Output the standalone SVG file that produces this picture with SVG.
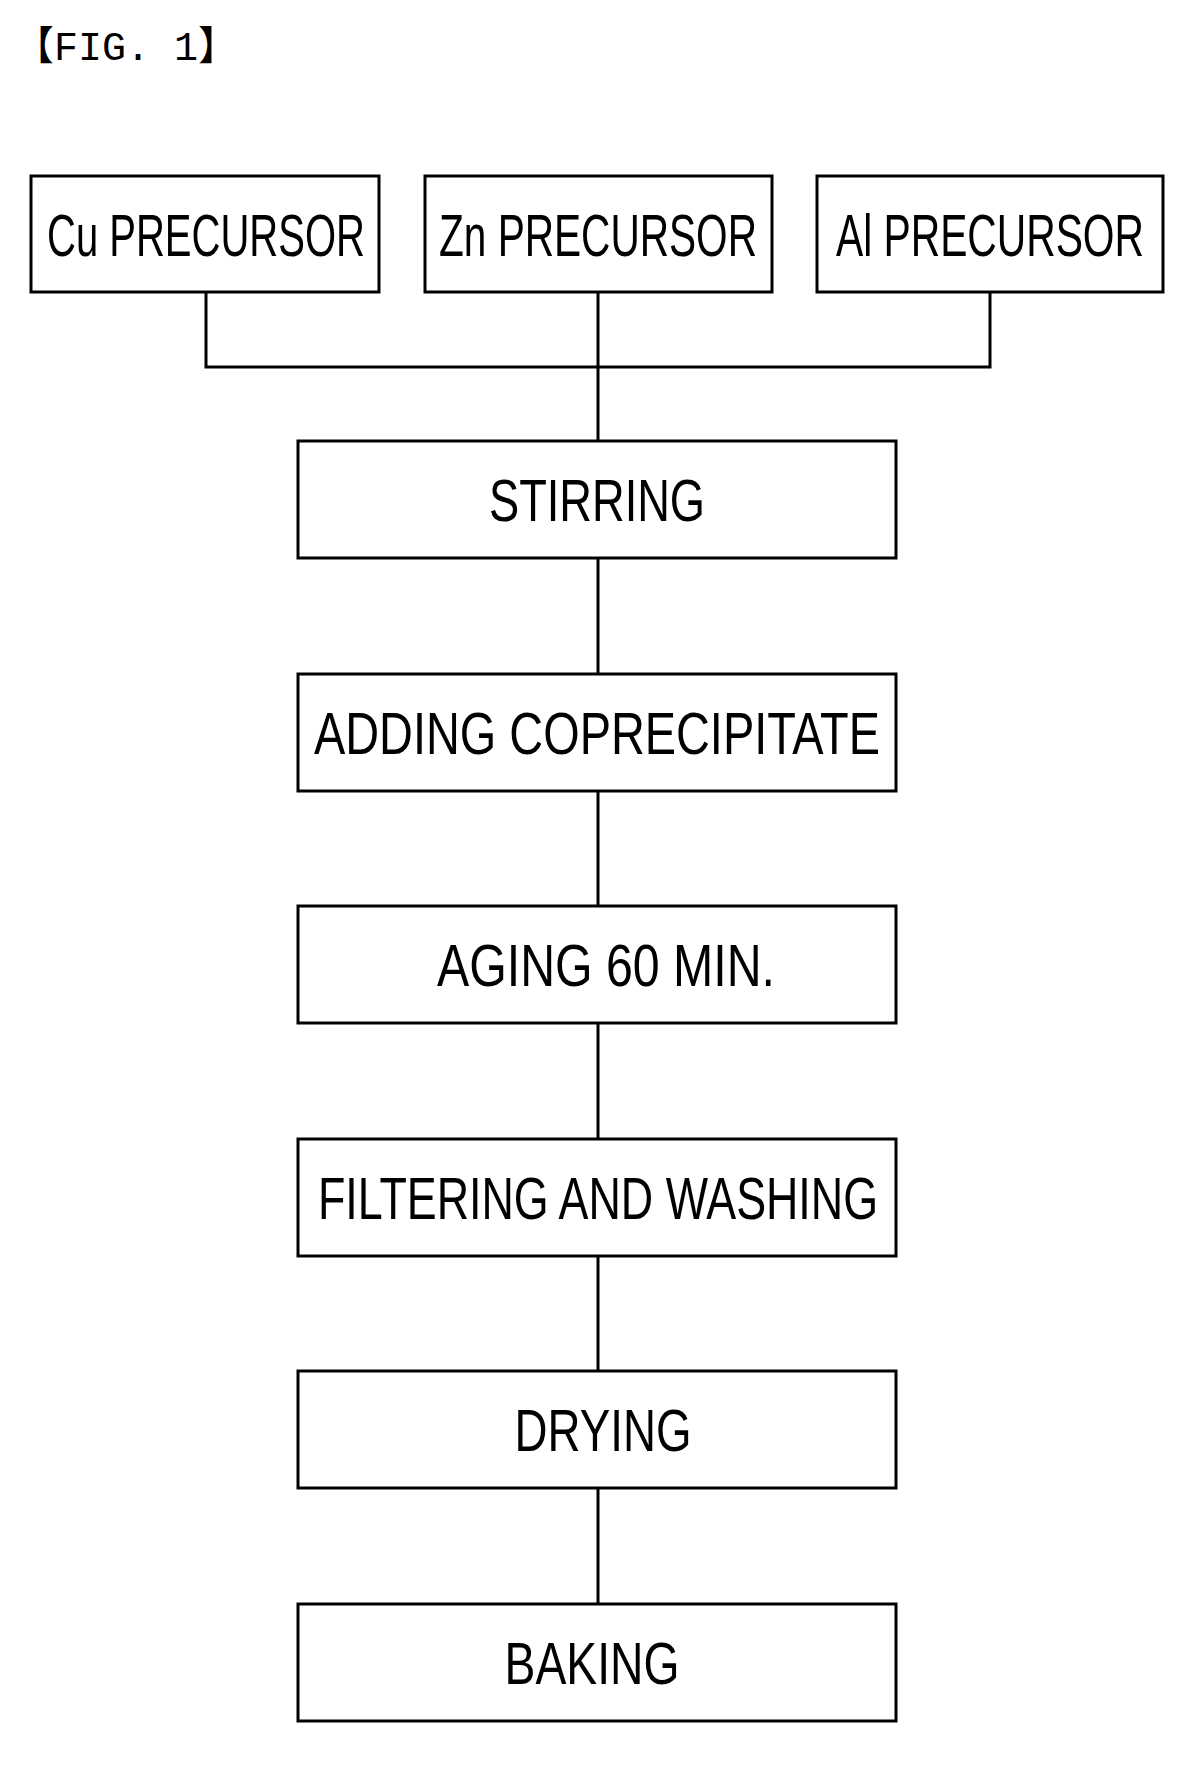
<svg xmlns="http://www.w3.org/2000/svg" width="1201" height="1768" viewBox="0 0 1201 1768">
<style>
rect{fill:#fff;stroke:#000;stroke-width:3}
.t{font-family:"Liberation Sans Narrow","Liberation Sans",sans-serif;font-size:60px;text-anchor:middle}
.c{fill:none;stroke:#000;stroke-width:3}
</style>
<rect x="0" y="0" width="1201" height="1768" style="stroke:none"/>
<text x="14" y="60" font-family="Liberation Mono,'Noto Sans CJK SC',monospace" font-size="40">【FIG. 1】</text>
<g id="connectors" class="c">
<path d="M206 292V367H990V292M598 292V441M598 558V674M598 791V906M598 1023V1139M598 1256V1371M598 1488V1604"/>
</g>
<g id="cu"><rect x="31" y="176" width="348" height="116"/><text class="t" x="206" y="256" textLength="318" lengthAdjust="spacingAndGlyphs">Cu PRECURSOR</text></g>
<g id="zn"><rect x="425" y="176" width="347" height="116"/><text class="t" x="598" y="256" textLength="318" lengthAdjust="spacingAndGlyphs">Zn PRECURSOR</text></g>
<g id="al"><rect x="817" y="176" width="346" height="116"/><text class="t" x="990" y="256" textLength="308" lengthAdjust="spacingAndGlyphs">Al PRECURSOR</text></g>
<g id="stirring"><rect x="298" y="441" width="598" height="117"/><text class="t" x="597" y="521" textLength="216" lengthAdjust="spacingAndGlyphs">STIRRING</text></g>
<g id="adding"><rect x="298" y="674" width="598" height="117"/><text class="t" x="597" y="754" textLength="566" lengthAdjust="spacingAndGlyphs">ADDING COPRECIPITATE</text></g>
<g id="aging"><rect x="298" y="906" width="598" height="117"/><text class="t" x="606" y="986" textLength="338" lengthAdjust="spacingAndGlyphs">AGING 60 MIN.</text></g>
<g id="filtering"><rect x="298" y="1139" width="598" height="117"/><text class="t" x="598" y="1219" textLength="560" lengthAdjust="spacingAndGlyphs">FILTERING AND WASHING</text></g>
<g id="drying"><rect x="298" y="1371" width="598" height="117"/><text class="t" x="603" y="1451" textLength="177" lengthAdjust="spacingAndGlyphs">DRYING</text></g>
<g id="baking"><rect x="298" y="1604" width="598" height="117"/><text class="t" x="592" y="1684" textLength="175" lengthAdjust="spacingAndGlyphs">BAKING</text></g>
</svg>
